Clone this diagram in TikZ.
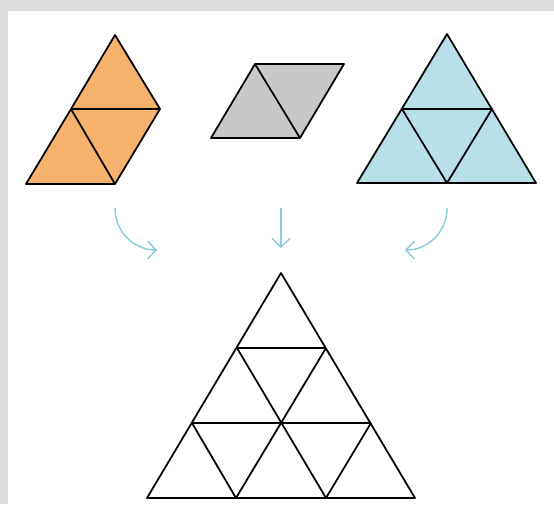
\documentclass[tikz,border=0pt]{standalone}
\usepackage{tikz}
\usetikzlibrary{arrows.meta}
\definecolor{puzorange}{RGB}{246,177,108}
\definecolor{puzgrey}  {RGB}{200,200,202}
\definecolor{puzblue}  {RGB}{184,224,232}
\definecolor{puzarrow} {RGB}{138,204,222}
\definecolor{puzframe} {RGB}{220,220,220}
\tikzset{
	piece/.style={line width=1pt,line join=round},
	turn/.style={puzarrow,line width=0.8pt,-{Straight Barb[length=0.17cm,width=0.36cm]}}
}

\begin{document}
\begin{tikzpicture}[x=0.02cm,y=-0.02cm]
	\fill[puzframe] (0,0) rectangle (554,504);
	\fill[white] (8,11) rectangle (554,504);
	% orange piece
	\fill[puzorange] (115,35) -- (160,109) -- (115,184) -- (26,184) -- (71,109) -- cycle;
	\draw[piece] (115,35) -- (160,109) -- (115,184) -- (26,184) -- (71,109) -- cycle;
	\draw[piece] (71,109) -- (160,109) (71,109) -- (115,184);
	% grey piece
	\fill[puzgrey] (255,64) -- (344,64) -- (300,138) -- (211,138) -- cycle;
	\draw[piece] (255,64) -- (344,64) -- (300,138) -- (211,138) -- cycle;
	\draw[piece] (255,64) -- (300,138);
	% blue piece
	\fill[puzblue] (447,34) -- (536,183) -- (357,183) -- cycle;
	\draw[piece] (447,34) -- (536,183) -- (357,183) -- cycle;
	\draw[piece] (402,109) -- (492,109) -- (447,183) -- cycle;
	% arrows
	\coordinate (l1) at (115,208); \coordinate (l2) at (157,250);
	\coordinate (m1) at (281,208); \coordinate (m2) at (281,248);
	\coordinate (r1) at (447,208); \coordinate (r2) at (405,250);
	\draw[turn] (l1) .. controls (115,232) and (134,250) .. (l2);
	\draw[turn] (m1) -- (m2);
	\draw[turn] (r1) .. controls (447,232) and (428,250) .. (r2);
	% big triangle
	\draw[piece] (281,273) -- (415,498) -- (147,498) -- cycle;
	\draw[piece] (237,348) -- (326,348) (192,423) -- (371,423);
	\draw[piece] (237,348) -- (326,498) (192,423) -- (236,498);
	\draw[piece] (326,348) -- (236,498) (371,423) -- (326,498);
\end{tikzpicture}
\end{document}
